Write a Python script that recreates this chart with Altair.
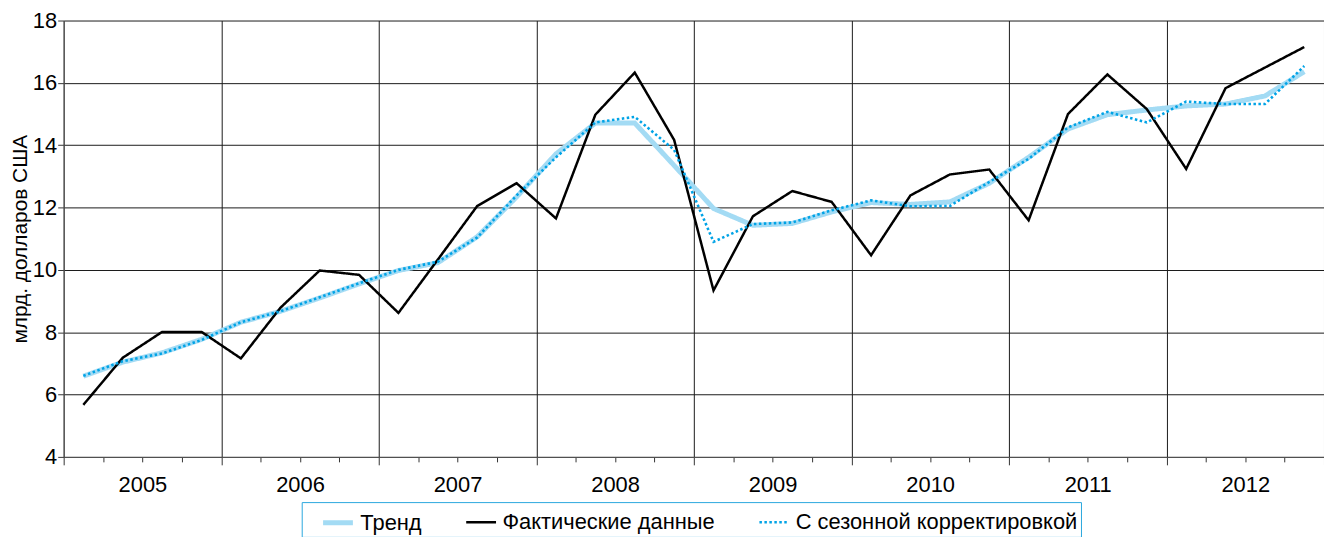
import altair as alt
import pandas as pd

years = ["2005", "2006", "2007", "2008", "2009", "2010", "2011", "2012"]
series_names = ["Тренд", "Фактические данные", "С сезонной корректировкой"]

trend = [6.59, 7.04, 7.34, 7.77, 8.32, 8.67, 9.10, 9.55,
         9.98, 10.23, 11.06, 12.34, 13.72, 14.71, 14.71, 13.35,
         11.97, 11.43, 11.49, 11.86, 12.16, 12.10, 12.18, 12.78,
         13.61, 14.52, 14.98, 15.13, 15.26, 15.32, 15.58, 16.36]
actual = [5.67, 7.18, 8.01, 8.01, 7.16, 8.78, 9.98, 9.84,
          8.62, 10.33, 12.05, 12.78, 11.65, 14.98, 16.33, 14.17,
          9.34, 11.72, 12.53, 12.18, 10.47, 12.39, 13.06, 13.22,
          11.59, 15.00, 16.27, 15.16, 13.24, 15.83, 16.49, 17.15]
seasonal = [6.60, 7.07, 7.32, 7.75, 8.32, 8.67, 9.12, 9.57,
            10.00, 10.26, 11.04, 12.39, 13.61, 14.73, 14.91, 13.85,
            10.90, 11.47, 11.52, 11.91, 12.23, 12.04, 12.05, 12.82,
            13.56, 14.57, 15.07, 14.73, 15.40, 15.32, 15.32, 16.54]

rows = []
for name, vals in zip(series_names, [trend, actual, seasonal]):
    for k, v in enumerate(vals):
        rows.append({"t": k + 0.5, "v": v, "s": name})
df = pd.DataFrame(rows)

FONT = "Liberation Sans"
year_arr = "[" + ",".join("'" + y + "'" for y in years) + "]"
label_expr = "datum.value % 4 == 2 ? " + year_arr + "[(datum.value - 2) / 4] : ''"

x_axis = alt.Axis(
    values=list(range(0, 33)),
    labelExpr=label_expr,
    tickSize={"condition": {"test": "datum.value % 4 == 0", "value": 8}, "value": 5},
    grid=True,
    gridOpacity={"condition": {"test": "datum.value % 4 == 0", "value": 1}, "value": 0},
    gridColor="#1a1a1a",
    gridWidth=1,
    tickColor="#333333",
    domainColor="#555555",
    labelFontSize=22,
    labelFont=FONT,
    labelColor="black",
    labelPadding=13,
    labelFlush=False,
    labelOverlap=False,
    title=None,
)

y_axis = alt.Axis(
    values=[4, 6, 8, 10, 12, 14, 16, 18],
    tickSize=6,
    tickColor="#333333",
    domainColor="#555555",
    grid=True,
    gridColor="#1a1a1a",
    gridWidth=1,
    labelFontSize=22,
    labelFont=FONT,
    labelColor="black",
    labelPadding=1,
    title="млрд. долларов США",
    titleFont=FONT,
    titleFontSize=21,
    titleFontWeight="normal",
    titleColor="black",
    titlePadding=2,
)

legend = alt.Legend(
    orient="none",
    legendX=239.5,
    legendY=484.5,
    direction="horizontal",
    title=None,
    strokeColor="#2aa7de",
    padding=3,
    symbolOffset=16,
    columnPadding=27,
    symbolType="stroke",
    symbolSize=900,
    labelOffset=5,
    labelLimit=500,
    labelFont=FONT,
    labelFontSize=22,
    labelColor="black",
)

chart = alt.Chart(df).mark_line(strokeCap="butt", strokeJoin="miter").encode(
    x=alt.X("t:Q", scale=alt.Scale(domain=[0, 32], nice=False, zero=False), axis=x_axis),
    y=alt.Y("v:Q", scale=alt.Scale(domain=[4, 18], nice=False, zero=False), axis=y_axis),
    color=alt.Color("s:N", scale=alt.Scale(domain=series_names,
                                           range=["#a3dbf4", "#000000", "#00a3e6"]),
                    legend=legend, sort=series_names),
    strokeDash=alt.StrokeDash("s:N", scale=alt.Scale(domain=series_names,
                                                     range=[[1, 0], [1, 0], [2.5, 2.5]]),
                              legend=legend, sort=series_names),
    strokeWidth=alt.StrokeWidth("s:N", scale=alt.Scale(type="ordinal", domain=series_names,
                                                       range=[5, 2.5, 2.6]),
                                legend=legend, sort=series_names),
).properties(
    width=1268,
    height=439,
    autosize=alt.AutoSizeParams(type="none"),
    padding={"left": 56, "top": 11, "right": 0, "bottom": 79},
).configure_view(stroke=None)

chart.save("out.html", embed_options={"renderer": "svg", "actions": False})
